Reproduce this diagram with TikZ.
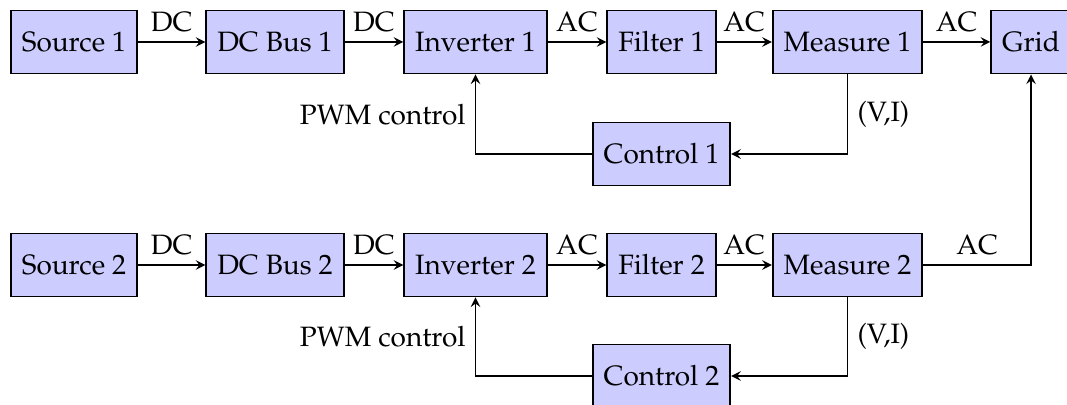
\documentclass[tikz,border=0pt]{standalone}
\usepackage[T1]{fontenc}
\usepackage{mathpazo}
\usetikzlibrary{arrows}
\begin{document}
\begin{tikzpicture}[x=0.357pt,y=-0.357pt,
  blk/.style={draw,fill=blue!20,line width=0.7pt,minimum height=63*0.357pt,inner xsep=3.9pt,inner ysep=3.33pt,anchor=center},
  con/.style={-stealth,line width=0.5pt},
  lbl/.style={inner sep=3.33pt}]
\useasboundingbox (0,0) rectangle (1067,405);
\node[blk] (s1) at (74,42) {Source 1};
\node[blk] (b1) at (275,42) {DC Bus 1};
\node[blk] (i1) at (475.5,42) {Inverter 1};
\node[blk] (f1) at (661.5,42) {Filter 1};
\node[blk] (m1) at (847.5,42) {Measure 1};
\node[blk] (g) at (1031,42) {Grid};
\node[blk] (c1) at (661.5,154) {Control 1};
\node[blk] (s2) at (74,265) {Source 2};
\node[blk] (b2) at (275,265) {DC Bus 2};
\node[blk] (i2) at (475.5,265) {Inverter 2};
\node[blk] (f2) at (661.5,265) {Filter 2};
\node[blk] (m2) at (847.5,265) {Measure 2};
\node[blk] (c2) at (661.5,376) {Control 2};
\draw[con] (s1) -- node[lbl,above]{DC} (b1);
\draw[con] (b1) -- node[lbl,above]{DC} (i1);
\draw[con] (i1) -- node[lbl,above]{AC} (f1);
\draw[con] (f1) -- node[lbl,above]{AC} (m1);
\draw[con] (m1) -- node[lbl,above]{AC} (g);
\draw[con] (m1.south) |- node[lbl,right,pos=0.25]{(V,I)} (c1.east);
\draw[con] (c1.west) -| node[lbl,left,pos=0.75]{PWM control} (i1.south);
\draw[con] (s2) -- node[lbl,above]{DC} (b2);
\draw[con] (b2) -- node[lbl,above]{DC} (i2);
\draw[con] (i2) -- node[lbl,above]{AC} (f2);
\draw[con] (f2) -- node[lbl,above]{AC} (m2);
\draw[con] (m2.south) |- node[lbl,right,pos=0.25]{(V,I)} (c2.east);
\draw[con] (c2.west) -| node[lbl,left,pos=0.75]{PWM control} (i2.south);
\draw[con] (m2.east) -| node[lbl,above,pos=0.25]{AC} (g.south);
\end{tikzpicture}
\end{document}
